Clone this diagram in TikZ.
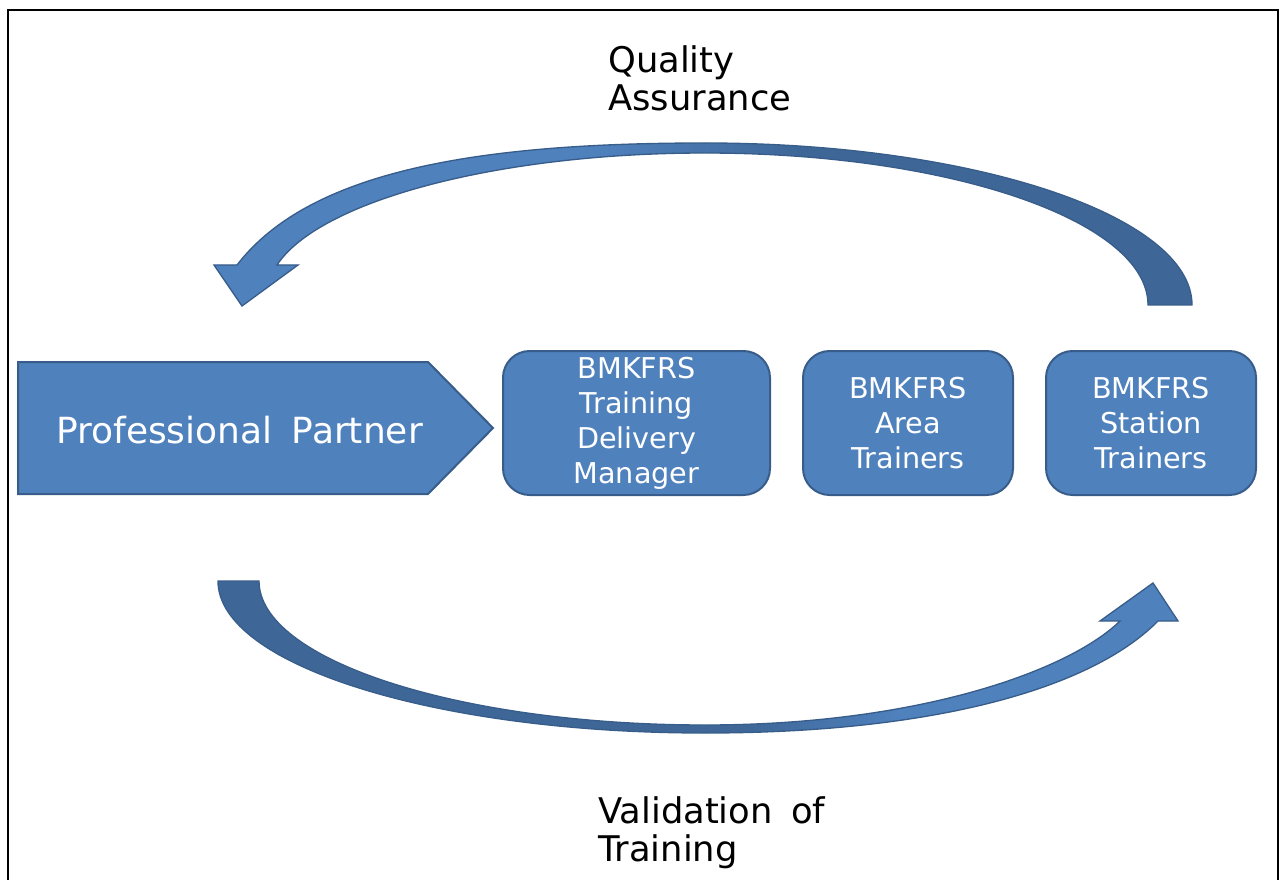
\documentclass[tikz,border=0pt]{standalone}
\usepackage{fontspec}
\setmainfont{DejaVu Sans}
\definecolor{boxFill}{HTML}{4F81BD}
\definecolor{boxEdge}{HTML}{385D8A}
\definecolor{arrLight}{HTML}{4F81BD}
\definecolor{arrDark}{HTML}{3E6798}
\pgfdeclarehorizontalshading{qaShade}{100bp}{color(0bp)=(arrLight); color(44.5bp)=(arrLight); color(55bp)=(arrDark); color(100bp)=(arrDark)}
\pgfdeclarehorizontalshading{vtShade}{100bp}{color(0bp)=(arrDark); color(52.5bp)=(arrDark); color(60.5bp)=(arrLight); color(100bp)=(arrLight)}
\begin{document}
\begin{tikzpicture}[x=0.75pt,y=-0.75pt,
  box/.style={draw=boxEdge, line width=1.5pt, fill=boxFill, rounded corners=20pt,
    minimum height=108pt, text=white, align=center, inner sep=0pt,
    font=\fontsize{21.5}{26.25}\selectfont},
  lbl/.style={anchor=north west, inner sep=0pt, align=left, text=black,
    font=\fontsize{26.5}{29}\selectfont},
  bigarrow/.style={draw=boxEdge, line width=1pt}]
\useasboundingbox (0,0) rectangle (1280,880);
% frame
\draw[line width=2pt, black] (8,885) -- (8,10) -- (1278,10) -- (1278,885);
% professional partner pentagon
\filldraw[fill=boxFill, draw=boxEdge, line width=1.5pt]
  (18,362) -- (428,362) -- (493,428) -- (428,494) -- (18,494) -- cycle;
\node[text=white, inner sep=0pt, font=\fontsize{27}{31}\selectfont] (pp) at (239.5,430)
  {Professional\hspace{0.22em} Partner};
% boxes
\node[box, minimum width=200.25pt] (b1) at (636.5,423)
  {BMKFRS\\Training\\Delivery\\Manager};
\node[box, minimum width=157.5pt] (b2) at (908,423)
  {BMKFRS\\Area\\Trainers};
\node[box, minimum width=157.5pt] (b3) at (1151,423)
  {BMKFRS\\Station\\Trainers};
% top curved arrow (quality assurance)
\shadedraw[bigarrow, shading=qaShade]
  (237,265) .. controls (310,170) and (480,143) .. (705,143)
  .. controls (974,143) and (1192,216) .. (1192,305)
  -- (1148,305) .. controls (1148,221) and (950,153) .. (705,153)
  .. controls (500,153) and (320,200) .. (277,265)
  -- (298,265) -- (242,306) -- (214,265) -- cycle;
% bottom curved arrow (validation of training)
\shadedraw[bigarrow, shading=vtShade]
  (218,581) .. controls (218,665) and (436,733) .. (705,733)
  .. controls (930,733) and (1090,690) .. (1158,621)
  -- (1178,621) -- (1153,583) -- (1100,621) -- (1120,621)
  .. controls (1070,670) and (920,725) .. (705,725)
  .. controls (459,725) and (259,660) .. (259,581) -- cycle;
% labels
\node[lbl] (qa) at (608,45) {Quality\\Assurance};
\node[lbl] (vt) at (598,796) {Validation\hspace{0.2em} of\\Training};
\end{tikzpicture}
\end{document}
